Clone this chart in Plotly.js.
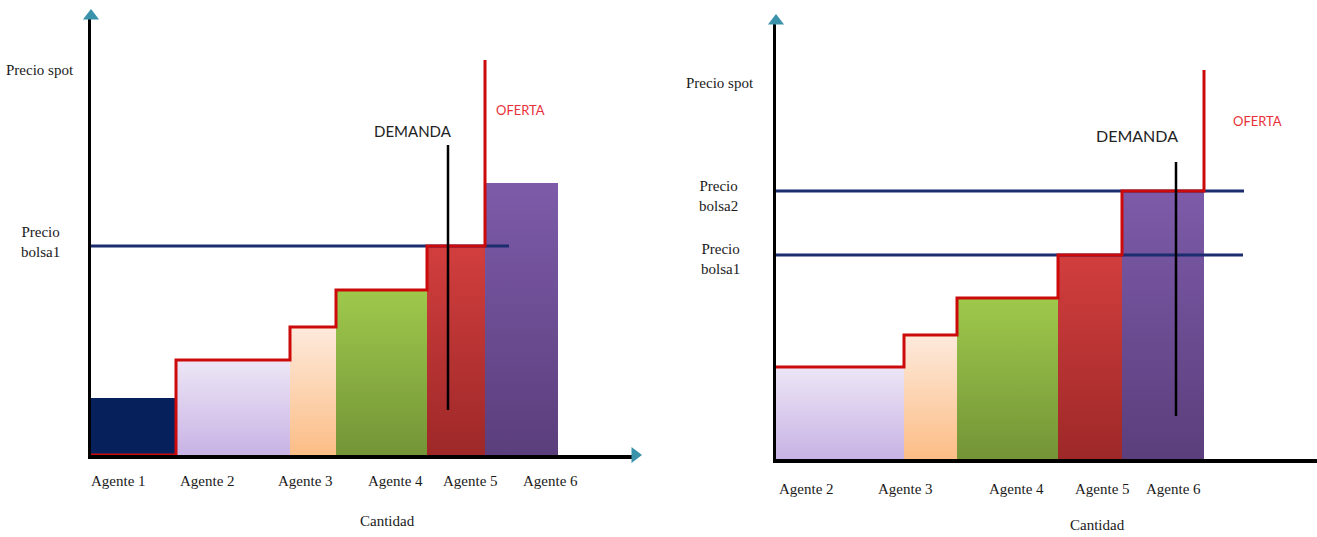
<!DOCTYPE html>
<html><head><meta charset="utf-8">
<script src="https://cdn.plot.ly/plotly-3.0.1.min.js"></script>
<style>html,body{margin:0;padding:0;background:#fff}#chart{width:1317px;height:537px}</style>
</head><body><div id="chart"></div>
<script>
// ---------- Panel izquierdo ----------
const agentesIzq = ['Agente 1', 'Agente 2', 'Agente 3', 'Agente 4', 'Agente 5', 'Agente 6'];
const cantidadIzq = [8.5, 11.4, 4.6, 9.1, 5.8, 7.3];
const precioIzq = [5.7, 9.5, 12.8, 16.5, 20.9, 27.2];
const ofertaIzq = [0, 9.5, 12.8, 16.5, 20.9];
const ofertaTopeIzq = 39.5;
const bolsa1Izq = 20.9;
const bolsaFinIzq = 41.8;
const demandaXIzq = 35.7;
const demandaYIzq = [4.5, 31.0];
const etiquetaXIzq = [2.7, 11.6, 21.4, 30.4, 37.9, 45.9];
const spotIzq = 38.5;

// ---------- Panel derecho ----------
const agentesDer = ['Agente 2', 'Agente 3', 'Agente 4', 'Agente 5', 'Agente 6'];
const cantidadDer = [12.8, 5.3, 10.1, 6.4, 8.2];
const precioDer = [9.2, 12.4, 16.1, 20.4, 26.8];
const ofertaTopeDer = 38.9;
const bolsa1Der = 20.4;
const bolsa2Der = 26.8;
const bolsaFinDer = [46.7, 46.8];
const demandaXDer = 40.0;
const demandaYDer = [4.3, 29.7];
const etiquetaXDer = [3.0, 12.9, 24.0, 32.6, 39.7];
const spotDer = 37.6;

// ---------- Estilos ----------
const grad = {
  'Agente 1': ['#06205c', '#06205c'],
  'Agente 2': ['#c8b3e5', '#ede6f6'],
  'Agente 3': ['#fcbd86', '#fdeadc'],
  'Agente 4': ['#749437', '#9ec94c'],
  'Agente 5': ['#9e2828', '#d23e3e'],
  'Agente 6': ['#5b3e7c', '#7d5ba9']
};
const AZUL = '#1b2d6e', ROJO = '#cc0a0a', TEAL = '#3b93ab';
const SERIF = 'Liberation Serif, Times New Roman, serif';
const SANS = 'Lato, Open Sans, sans-serif';

const traces = [];
function cumStarts(w) { const s = []; let c = 0; for (const v of w) { s.push(c); c += v; } return s; }

function addBars(names, widths, prices, xa, ya) {
  const starts = cumStarts(widths);
  names.forEach((n, i) => {
    const x0 = starts[i], x1 = starts[i] + widths[i], h = prices[i];
    traces.push({
      type: 'scatter', mode: 'lines', xaxis: xa, yaxis: ya, name: n,
      x: [x0, x1, x1, x0, x0], y: [0, 0, h, h, 0],
      fill: 'toself', line: { width: 0 },
      fillcolor: grad[n][1],
      fillgradient: { type: 'vertical', colorscale: [[0, grad[n][0]], [1, grad[n][1]]] },
      hoverinfo: 'skip', showlegend: false
    });
  });
  return starts;
}

const stIzq = addBars(agentesIzq, cantidadIzq, precioIzq, 'x', 'y');
const stDer = addBars(agentesDer, cantidadDer, precioDer, 'x2', 'y2');

// Blue price lines
traces.push({ type: 'scatter', mode: 'lines', xaxis: 'x', yaxis: 'y', x: [0, bolsaFinIzq], y: [bolsa1Izq, bolsa1Izq],
  line: { color: AZUL, width: 3 }, cliponaxis: false, showlegend: false, hoverinfo: 'skip' });
traces.push({ type: 'scatter', mode: 'lines', xaxis: 'x2', yaxis: 'y2', x: [0, bolsaFinDer[0]], y: [bolsa1Der, bolsa1Der],
  line: { color: AZUL, width: 3 }, cliponaxis: false, showlegend: false, hoverinfo: 'skip' });
traces.push({ type: 'scatter', mode: 'lines', xaxis: 'x2', yaxis: 'y2', x: [0, bolsaFinDer[1]], y: [bolsa2Der, bolsa2Der],
  line: { color: AZUL, width: 3 }, cliponaxis: false, showlegend: false, hoverinfo: 'skip' });

// Supply (OFERTA) step curves
const ofXIzq = [0], ofYIzq = [ofertaIzq[0]];
for (let i = 1; i < ofertaIzq.length; i++) { ofXIzq.push(stIzq[i]); ofYIzq.push(ofertaIzq[i]); }
ofXIzq.push(stIzq[ofertaIzq.length]); ofYIzq.push(ofertaTopeIzq);
traces.push({ type: 'scatter', mode: 'lines', xaxis: 'x', yaxis: 'y', x: ofXIzq, y: ofYIzq,
  line: { color: ROJO, width: 3, shape: 'hv' }, cliponaxis: false, showlegend: false, hoverinfo: 'skip' });

const ofXDer = [0], ofYDer = [precioDer[0]];
for (let i = 1; i < precioDer.length; i++) { ofXDer.push(stDer[i]); ofYDer.push(precioDer[i]); }
ofXDer.push(stDer[precioDer.length - 1] + cantidadDer[precioDer.length - 1]); ofYDer.push(ofertaTopeDer);
traces.push({ type: 'scatter', mode: 'lines', xaxis: 'x2', yaxis: 'y2', x: ofXDer, y: ofYDer,
  line: { color: ROJO, width: 3, shape: 'hv' }, cliponaxis: false, showlegend: false, hoverinfo: 'skip' });

// Demand lines
traces.push({ type: 'scatter', mode: 'lines', xaxis: 'x', yaxis: 'y', x: [demandaXIzq, demandaXIzq], y: demandaYIzq,
  line: { color: '#000', width: 2.5 }, showlegend: false, hoverinfo: 'skip' });
traces.push({ type: 'scatter', mode: 'lines', xaxis: 'x2', yaxis: 'y2', x: [demandaXDer, demandaXDer], y: demandaYDer,
  line: { color: '#000', width: 2.5 }, showlegend: false, hoverinfo: 'skip' });

// Axis arrows
const XR1 = [0, 54.4], YR1 = [0, 43.9], XR2 = [0, 54.1], YR2 = [0, 43.8];
traces.push({ type: 'scatter', mode: 'markers', xaxis: 'x', yaxis: 'y', x: [0, XR1[1]], y: [YR1[1], 0],
  marker: { symbol: ['triangle-up', 'triangle-right'], size: 14, color: TEAL }, cliponaxis: false, showlegend: false, hoverinfo: 'skip' });
traces.push({ type: 'scatter', mode: 'markers', xaxis: 'x2', yaxis: 'y2', x: [0], y: [YR2[1]],
  marker: { symbol: 'triangle-up', size: 14, color: TEAL }, cliponaxis: false, showlegend: false, hoverinfo: 'skip' });

const W = 1317, H = 537;
const px = v => v / W, py = v => (H - v) / H;

const axisBase = { showline: true, linecolor: '#000', linewidth: 3.5, showgrid: false, zeroline: false,
  showticklabels: false, ticks: '', fixedrange: true, layer: 'below traces' };

const ann = [];
function txt(x, y, text, opts) { ann.push(Object.assign({ x, y, text, showarrow: false, xanchor: 'center', yanchor: 'middle', align: 'center' }, opts)); }
const serifFont = { family: SERIF, size: 15, color: '#1a1a1a' };

txt(px(40), spotIzq, 'Precio spot', { xref: 'paper', yref: 'y', font: serifFont });
txt(px(40), bolsa1Izq, 'Precio<br>bolsa1', { xref: 'paper', yref: 'y', font: serifFont, yshift: 4 });
txt(px(720), spotDer, 'Precio spot', { xref: 'paper', yref: 'y2', font: serifFont });
txt(px(718), bolsa2Der, 'Precio<br>bolsa2', { xref: 'paper', yref: 'y2', font: serifFont, yshift: -5 });
txt(px(720), bolsa1Der, 'Precio<br>bolsa1', { xref: 'paper', yref: 'y2', font: serifFont, yshift: -4 });

agentesIzq.forEach((a, i) => txt(etiquetaXIzq[i], py(481), a, { xref: 'x', yref: 'paper', font: serifFont }));
agentesDer.forEach((a, i) => txt(etiquetaXDer[i], py(489), a, { xref: 'x2', yref: 'paper', font: serifFont }));
txt(px(387), py(521), 'Cantidad', { xref: 'paper', yref: 'paper', font: serifFont });
txt(px(1097), py(525), 'Cantidad', { xref: 'paper', yref: 'paper', font: serifFont });

txt(px(413), py(131), 'DEMANDA', { xref: 'paper', yref: 'paper', font: { family: SANS, size: 15, color: '#222' } });
txt(px(520), py(110), 'OFERTA', { xref: 'paper', yref: 'paper', font: { family: SANS, size: 13, color: '#e8303a' } });
txt(px(1137), py(135), 'DEMANDA', { xref: 'paper', yref: 'paper', font: { family: SANS, size: 16, color: '#222' } });
txt(px(1257), py(121), 'OFERTA', { xref: 'paper', yref: 'paper', font: { family: SANS, size: 13, color: '#e8303a' } });

const layout = {
  width: W, height: H, margin: { l: 0, r: 0, t: 0, b: 0 },
  paper_bgcolor: '#fff', plot_bgcolor: 'rgba(0,0,0,0)', showlegend: false,
  xaxis: Object.assign({}, axisBase, { domain: [px(91), px(635)], range: XR1, anchor: 'y' }),
  yaxis: Object.assign({}, axisBase, { domain: [py(455), py(16)], range: YR1, anchor: 'x' }),
  xaxis2: Object.assign({}, axisBase, { domain: [px(776), 1], range: XR2, anchor: 'y2' }),
  yaxis2: Object.assign({}, axisBase, { domain: [py(459), py(21)], range: YR2, anchor: 'x2' }),
  annotations: ann
};

Plotly.newPlot('chart', traces, layout, { displayModeBar: false, staticPlot: true });
</script></body></html>
